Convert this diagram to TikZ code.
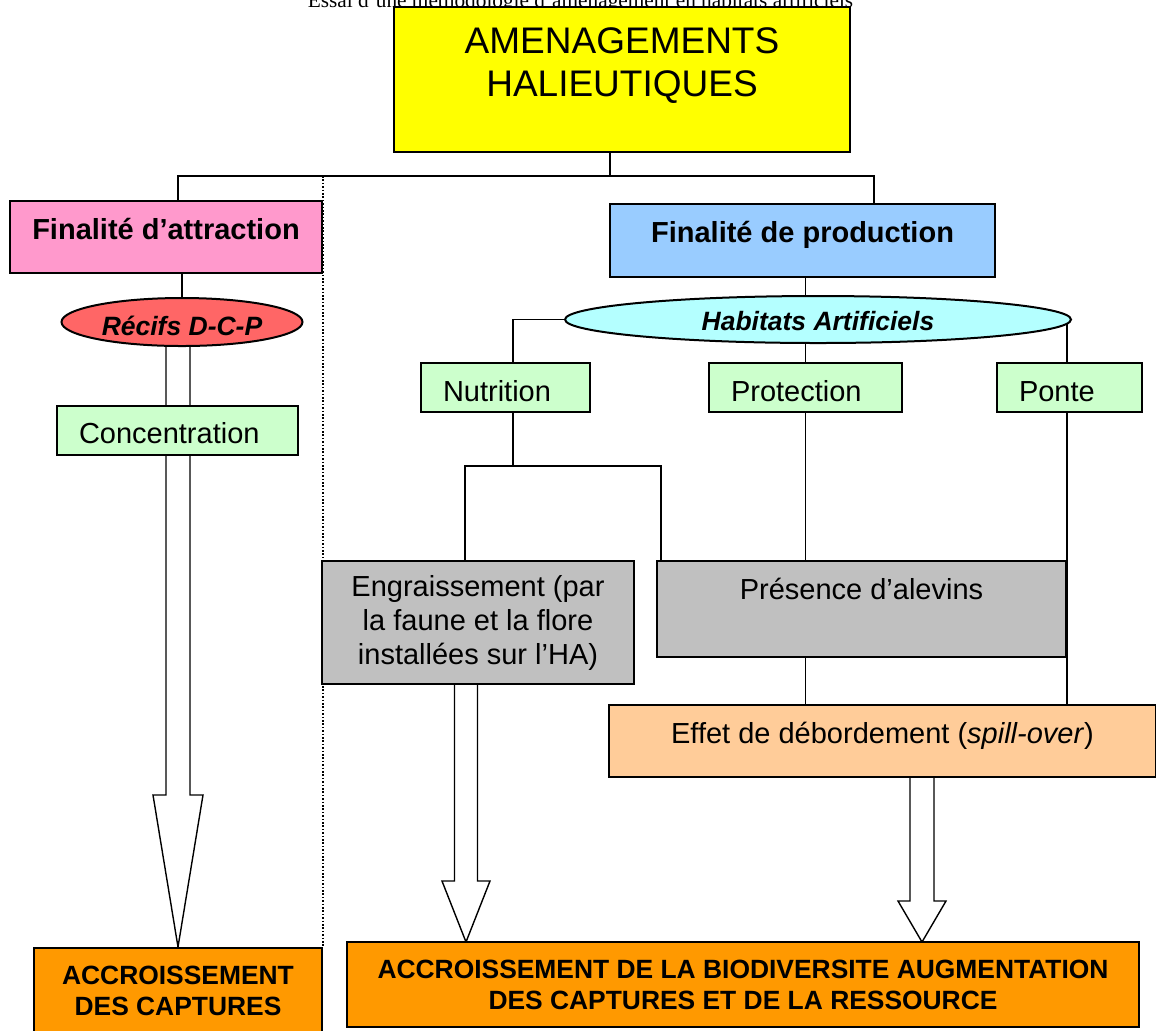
\documentclass[tikz,border=0pt]{standalone}
\usepackage{fontspec}
\setmainfont{Liberation Sans}
\newfontfamily\hdrfont{Liberation Serif}
\usetikzlibrary{shapes.geometric,calc,backgrounds}
\definecolor{HAyellow}{RGB}{255,255,0}
\definecolor{HApink}{RGB}{255,153,204}
\definecolor{HAblue}{RGB}{153,204,255}
\definecolor{HAred}{RGB}{255,102,102}
\definecolor{HAcyan}{RGB}{180,255,255}
\definecolor{HAgreen}{RGB}{204,255,204}
\definecolor{HAgrey}{RGB}{192,192,192}
\definecolor{HApeach}{RGB}{255,204,153}
\definecolor{HAorange}{RGB}{255,153,0}
\newlength{\pxu}\setlength{\pxu}{0.5pt}
\tikzset{
  box/.style={draw,line width=1pt,inner sep=0pt,align=center},
  aim/.style={box,fill=HAyellow,font=\fontsize{18.5}{21.5}\selectfont},
  goal/.style={box,font=\bfseries\fontsize{14.5}{17}\selectfont,
               text height=10.4pt,text depth=#1},
  reef/.style={ellipse,draw,line width=1pt,inner sep=0pt,
               font=\bfseries\itshape\fontsize{13.25}{15}\selectfont,text depth=0pt},
  role/.style={box,fill=HAgreen,align=left,inner xsep=22\pxu,minimum height=49\pxu,
               font=\fontsize{14.5}{17}\selectfont,text height=13.9pt,text depth=0pt},
  effect/.style={box,fill=HAgrey,font=\fontsize{14.5}{17}\selectfont},
  result/.style={box,fill=HAorange,font=\bfseries\fontsize{13.2}{15.5}\selectfont},
  runhead/.style={anchor=base,inner sep=0pt,font=\hdrfont\fontsize{10.65}{12}\selectfont},
  ln/.style={line width=0.7pt},
  blk/.style={draw,fill=white,line width=0.7pt},
  divider/.style={line width=0.6pt,dash pattern=on 0.8pt off 0.9pt}
}
% hollow block arrow: start, tip, shaft half width, head half width, head length
\newcommand{\blockarrow}[5]{%
  \draw[blk] let \p1=(#1), \p2=(#2) in
    (\x2-#3,\y1) -- (\x2-#3,\y2+#5) -- (\x2-#4,\y2+#5) -- (\p2)
    -- (\x2+#4,\y2+#5) -- (\x2+#3,\y2+#5) -- (\x2+#3,\y1) -- cycle;}
\begin{document}
\begin{tikzpicture}[x=\pxu,y=-\pxu]
  \useasboundingbox (0,0) rectangle (1156,1030);
  \node[runhead] (hdr) at (580.5,7) {Essai d’une méthodologie d’aménagement en habitats artificiels};
  \node[aim,minimum width=456\pxu,minimum height=145\pxu,text height=16.8pt,text depth=0pt] (ame) at (622,79.5) {AMENAGEMENTS\\HALIEUTIQUES};
  % finalites
  \node[goal=8pt,fill=HApink,minimum width=312\pxu,minimum height=72\pxu] (att) at (166,237) {Finalité d’attraction};
  \node[goal=8.5pt,fill=HAblue,minimum width=385\pxu,minimum height=73\pxu] (pro) at (802.5,240.5) {Finalité de production};
  \node[reef,fill=HAred,minimum width=241\pxu,minimum height=48\pxu,text height=13pt] (rec) at (182,322) {Récifs D-C-P};
  \node[reef,fill=HAcyan,minimum width=506\pxu,minimum height=47\pxu,text height=11pt] (hab) at (818,319.5) {Habitats Artificiels};
  \node[role,text width=197\pxu] (con) at (177.5,430) {Concentration};
  \node[role,text width=125\pxu] (nut) at (505.5,387.5) {Nutrition};
  \node[role,text width=149\pxu] (prt) at (805.5,387.5) {Protection};
  \node[role,text width=101\pxu] (pnt) at (1069.5,387.5) {Ponte};
  % effets
  \node[effect,minimum width=312\pxu,minimum height=123\pxu] (eng) at (478,622.5) {Engraissement (par\\la faune et la flore\\installées sur l’HA)};
  \node[effect,minimum width=409\pxu,minimum height=96\pxu,text height=10.4pt,text depth=20pt] (pre) at (861.5,609) {Présence d’alevins};
  \node[box,fill=HApeach,minimum width=547\pxu,minimum height=72\pxu,font=\fontsize{14.5}{17}\selectfont,text height=10.4pt,text depth=8pt] (eff) at (882.5,741) {Effet de débordement (\textit{spill-over})};
  % resultats
  \node[result,minimum width=288\pxu,minimum height=86\pxu] (acl) at (178,991) {ACCROISSEMENT\\DES CAPTURES};
  \node[result,minimum width=792\pxu,minimum height=85\pxu] (acr) at (743,984.5) {ACCROISSEMENT DE LA BIODIVERSITE AUGMENTATION\\DES CAPTURES ET DE LA RESSOURCE};
  \begin{scope}[on background layer]
    \coordinate (top) at (610,176);
    \coordinate (bl) at (178,176);
    \coordinate (br) at (874,176);
    \coordinate (nj) at (513,466);
    \draw[ln] (top |- ame.south) -- (top);
    \draw[ln] (bl |- att.north) -- (bl) -- (br) -- (br |- pro.north);
    \draw[divider] (att.east |- top) -- (att.east |- acl.north);
    \draw[ln] (rec |- att.south) -- (rec);
    \draw[ln] (prt |- pro.south) -- (prt |- eff.north);
    \draw[ln] (hab.west) -| ([xshift=7.5\pxu]nut.north);
    \draw[ln] ([xshift=7.5\pxu]nut.south) -- (nj);
    \draw[ln] ([xshift=-13\pxu]eng.north) |- (nj) -| ([xshift=5\pxu]pre.north west);
    \draw[ln] (pre.east |- hab.east) -- (pre.east |- eff.north);
    \blockarrow{rec.center}{acl.north}{6pt}{12.5pt}{76pt}
    \coordinate (tipm) at (466,942);
    \blockarrow{eng.center}{tipm}{5.75pt}{12pt}{30.5pt}
    \coordinate (tipr) at (922,942);
    \blockarrow{eff.center}{tipr}{6pt}{12pt}{20.5pt}
  \end{scope}
\end{tikzpicture}
\end{document}
